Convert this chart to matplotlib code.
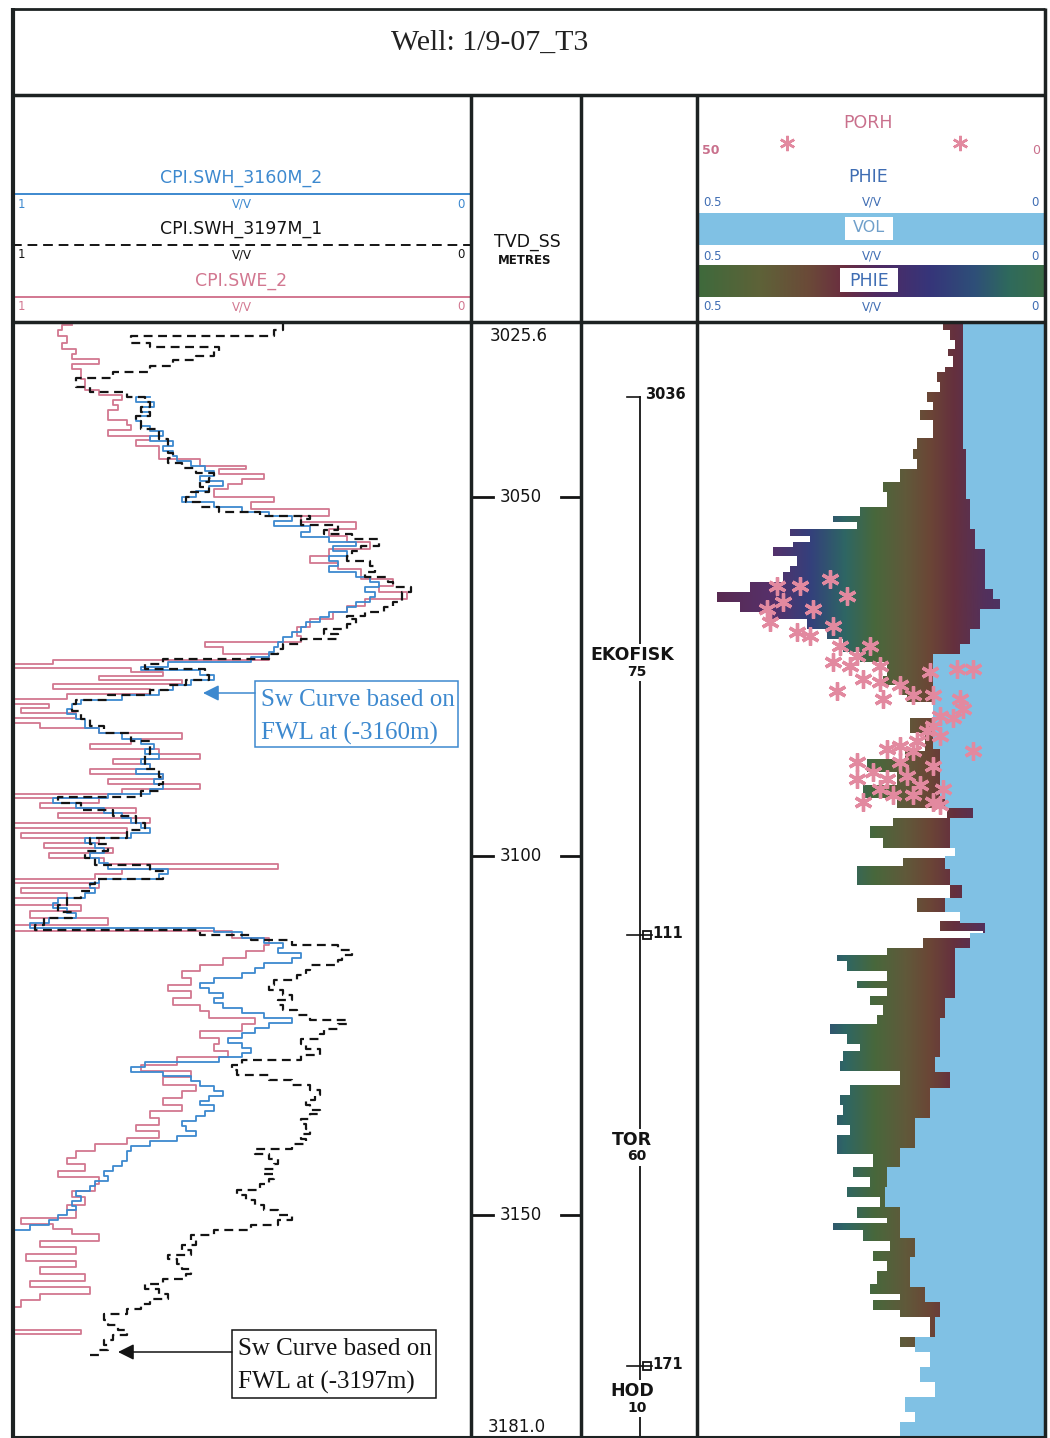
import numpy as np
import matplotlib.pyplot as plt
from matplotlib.colors import LinearSegmentedColormap
from matplotlib.patches import Rectangle

W, H = 1050, 1438
TOP, BASE = 3025.6, 3181.0
WELL = 'Well: 1/9-07_T3'

# water saturation, CPI.SWE_2 (v/v)
swe_depth = [3026.0, 3026.7, 3027.6, 3028.5, 3029.4, 3030.1, 3030.8, 3031.5, 3032.2, 3033.6,
             3035.0, 3035.7, 3036.4, 3037.1, 3037.8, 3039.2, 3039.9, 3040.6, 3041.5, 3042.0,
             3042.9, 3043.3, 3044.7, 3045.7, 3046.1, 3046.8, 3047.5, 3048.2, 3048.9, 3049.9,
             3050.7, 3051.7, 3052.6, 3053.5, 3054.4, 3055.4, 3056.3, 3057.2, 3058.2, 3059.1,
             3060.0, 3061.4, 3062.4, 3063.2, 3064.2, 3065.1, 3066.0, 3066.9, 3068.1, 3069.3,
             3070.1, 3070.9, 3071.8, 3072.6, 3073.2, 3073.8, 3074.3, 3074.9, 3075.4, 3076.0,
             3076.7, 3077.4, 3078.1, 3078.8, 3079.4, 3080.1, 3080.8, 3081.5, 3082.2, 3082.9,
             3083.6, 3084.3, 3085.0, 3085.7, 3086.4, 3087.1, 3087.8, 3088.5, 3089.2, 3089.9,
             3090.6, 3091.3, 3091.9, 3092.6, 3093.3, 3094.0, 3094.7, 3095.4, 3096.1, 3096.8,
             3097.5, 3098.2, 3098.9, 3099.6, 3100.3, 3101.1, 3101.7, 3102.4, 3103.1, 3103.7,
             3104.4, 3105.1, 3105.8, 3106.8, 3107.6, 3108.6, 3109.6, 3110.4, 3111.4, 3112.3,
             3113.2, 3114.2, 3115.1, 3116.0, 3117.0, 3117.9, 3118.8, 3119.7, 3120.7, 3121.6,
             3122.5, 3123.4, 3124.3, 3125.3, 3126.2, 3127.1, 3128.0, 3129.0, 3129.9, 3130.8,
             3131.8, 3132.7, 3133.6, 3134.6, 3135.4, 3136.4, 3137.4, 3138.2, 3139.2, 3140.1,
             3141.0, 3142.0, 3142.9, 3143.8, 3144.7, 3145.7, 3146.6, 3147.5, 3148.5, 3149.3,
             3150.3, 3151.2, 3151.9, 3152.6, 3153.5, 3154.4, 3155.4, 3156.3, 3157.2, 3158.2,
             3159.1, 3160.0, 3160.9, 3161.8, 3162.8, 3163.7, 3166.0, 3166.5, 3167.2, 3181.0]
swe = [0.87, 0.89, 0.90, 0.88, 0.89, 0.86, 0.87, 0.81, 0.87, 0.85,
       0.84, 0.81, 0.76, 0.78, 0.77, 0.79, 0.75, 0.74, 0.79, 0.70,
       0.73, 0.68, 0.68, 0.59, 0.49, 0.55, 0.45, 0.50, 0.53, 0.56,
       0.43, 0.48, 0.31, 0.37, 0.25, 0.31, 0.27, 0.22, 0.31, 0.35,
       0.29, 0.24, 0.17, 0.20, 0.14, 0.23, 0.27, 0.30, 0.35, 0.38,
       0.37, 0.58, 0.54, 0.44, 0.91, 1.00, 0.74, 0.67, 0.81, 0.63,
       0.91, 0.70, 0.88, 1.00, 0.92, 0.98, 0.86, 1.00, 0.94, 0.81,
       0.63, 0.74, 0.83, 0.68, 0.59, 0.78, 0.70, 0.83, 0.67, 0.79,
       0.59, 0.76, 1.00, 0.81, 0.94, 0.73, 0.90, 0.70, 1.00, 0.75,
       0.98, 0.81, 0.93, 0.78, 0.92, 0.80, 0.42, 0.76, 0.82, 1.00,
       0.81, 0.98, 0.88, 1.00, 0.85, 0.96, 0.79, 1.00, 0.52, 0.44,
       0.45, 0.49, 0.54, 0.59, 0.63, 0.61, 0.66, 0.61, 0.65, 0.59,
       0.57, 0.47, 0.50, 0.59, 0.55, 0.56, 0.53, 0.64, 0.72, 0.61,
       0.67, 0.60, 0.63, 0.67, 0.63, 0.70, 0.68, 0.73, 0.68, 0.75,
       0.82, 0.86, 0.88, 0.84, 0.90, 0.81, 0.82, 0.87, 0.84, 0.88,
       0.86, 0.98, 0.91, 0.87, 0.81, 0.94, 0.86, 0.97, 0.86, 0.94,
       0.84, 0.96, 0.83, 0.94, 0.98, 1.00, 1.00, 0.85, 1.00, 1.00]

# CPI.SWH_3160M_2 (FWL at -3160 m)
swh60_depth = [3036.0, 3036.7, 3037.4, 3038.1, 3038.7, 3039.4, 3040.1, 3040.8, 3041.5, 3042.2,
               3042.9, 3043.6, 3044.3, 3045.0, 3045.7, 3046.4, 3047.1, 3047.8, 3048.5, 3049.2,
               3049.9, 3050.6, 3051.3, 3052.0, 3052.6, 3053.3, 3054.0, 3054.9, 3055.6, 3056.3,
               3056.8, 3057.5, 3058.2, 3058.9, 3059.6, 3060.4, 3061.1, 3061.8, 3062.5, 3063.2,
               3063.9, 3064.6, 3065.3, 3066.0, 3066.7, 3067.4, 3068.1, 3068.8, 3069.5, 3070.1,
               3070.9, 3071.6, 3072.3, 3072.9, 3073.6, 3074.1, 3074.8, 3075.5, 3076.2, 3076.9,
               3077.6, 3078.3, 3078.8, 3079.5, 3080.2, 3080.9, 3081.5, 3082.2, 3082.9, 3083.6,
               3084.3, 3085.0, 3085.7, 3086.4, 3087.1, 3087.8, 3088.5, 3089.2, 3089.9, 3090.6,
               3091.3, 3091.9, 3092.6, 3093.3, 3094.0, 3094.7, 3095.4, 3096.1, 3096.8, 3097.5,
               3098.2, 3098.9, 3099.6, 3100.3, 3101.0, 3101.7, 3102.4, 3103.1, 3103.7, 3104.4,
               3105.1, 3105.8, 3106.5, 3107.2, 3107.9, 3108.6, 3109.3, 3110.0, 3110.5, 3111.4,
               3112.1, 3112.8, 3113.5, 3114.2, 3114.9, 3115.6, 3116.3, 3117.0, 3117.6, 3118.3,
               3119.0, 3119.7, 3120.4, 3121.1, 3121.8, 3122.5, 3123.2, 3123.9, 3124.6, 3125.3,
               3126.0, 3126.7, 3127.4, 3128.0, 3128.7, 3129.4, 3130.0, 3130.6, 3131.3, 3132.0,
               3132.7, 3133.4, 3134.1, 3134.7, 3135.4, 3136.1, 3136.8, 3137.5, 3138.2, 3138.9,
               3139.6, 3140.3, 3141.0, 3141.7, 3142.4, 3143.1, 3143.8, 3144.5, 3145.2, 3145.9,
               3146.6, 3147.3, 3148.0, 3148.7, 3149.3, 3150.0, 3150.7, 3151.4, 3152.1, 3152.8,
               3181.0]
swh60 = [0.70, 0.73, 0.69, 0.72, 0.70, 0.73, 0.72, 0.70, 0.67, 0.70,
         0.65, 0.67, 0.65, 0.64, 0.61, 0.58, 0.56, 0.59, 0.54, 0.57,
         0.60, 0.63, 0.56, 0.50, 0.44, 0.39, 0.43, 0.35, 0.37, 0.31,
         0.25, 0.30, 0.27, 0.31, 0.29, 0.31, 0.25, 0.22, 0.20, 0.23,
         0.21, 0.22, 0.25, 0.27, 0.31, 0.33, 0.36, 0.37, 0.39, 0.41,
         0.42, 0.43, 0.44, 0.48, 0.66, 0.72, 0.59, 0.56, 0.61, 0.65,
         0.68, 0.76, 0.85, 0.87, 0.88, 0.86, 0.84, 0.84, 0.81, 0.76,
         0.72, 0.69, 0.71, 0.68, 0.72, 0.70, 0.73, 0.67, 0.69, 0.67,
         0.70, 0.79, 0.91, 0.86, 0.80, 0.76, 0.74, 0.72, 0.70, 0.74,
         0.84, 0.82, 0.80, 0.83, 0.81, 0.79, 0.66, 0.68, 0.81, 0.83,
         0.82, 0.84, 0.90, 0.91, 0.88, 0.86, 0.92, 0.96, 0.56, 0.50,
         0.45, 0.41, 0.42, 0.37, 0.39, 0.45, 0.47, 0.50, 0.56, 0.59,
         0.57, 0.54, 0.56, 0.54, 0.50, 0.45, 0.39, 0.44, 0.47, 0.50,
         0.53, 0.50, 0.48, 0.50, 0.55, 0.71, 0.74, 0.67, 0.61, 0.59,
         0.56, 0.54, 0.57, 0.59, 0.56, 0.58, 0.60, 0.63, 0.62, 0.60,
         0.64, 0.70, 0.74, 0.75, 0.75, 0.76, 0.78, 0.80, 0.79, 0.82,
         0.83, 0.86, 0.85, 0.87, 0.86, 0.88, 0.90, 0.92, 0.96, 1.00,
         1.00]

# CPI.SWH_3197M_1 (FWL at -3197 m)
swh97_depth = [3025.6, 3026.7, 3027.6, 3028.5, 3029.1, 3029.7, 3030.3, 3030.9, 3031.7, 3032.5,
               3033.4, 3034.0, 3034.6, 3035.3, 3036.0, 3036.7, 3037.4, 3038.1, 3038.7, 3039.4,
               3040.5, 3041.9, 3042.9, 3043.8, 3044.5, 3045.2, 3045.9, 3046.6, 3047.3, 3047.9,
               3048.6, 3049.3, 3050.0, 3050.6, 3051.3, 3052.0, 3052.6, 3053.1, 3053.8, 3054.5,
               3055.1, 3055.8, 3056.8, 3057.5, 3058.2, 3058.9, 3059.6, 3060.4, 3061.1, 3061.8,
               3062.5, 3063.2, 3063.9, 3064.6, 3065.3, 3066.0, 3066.6, 3067.0, 3067.7, 3068.4,
               3069.1, 3069.7, 3070.4, 3071.1, 3071.8, 3072.5, 3073.2, 3073.9, 3074.8, 3075.5,
               3076.2, 3076.9, 3077.6, 3078.3, 3078.8, 3079.8, 3080.9, 3081.9, 3082.9, 3083.9,
               3084.7, 3085.7, 3087.8, 3088.9, 3089.9, 3090.9, 3091.7, 3092.6, 3093.6, 3094.4,
               3095.4, 3096.4, 3097.5, 3098.3, 3099.3, 3100.3, 3101.2, 3102.1, 3103.1, 3103.9,
               3104.9, 3105.8, 3106.8, 3107.7, 3108.6, 3109.6, 3110.3, 3111.0, 3111.7, 3112.4,
               3113.1, 3113.8, 3114.5, 3115.2, 3115.8, 3116.5, 3117.2, 3117.9, 3118.6, 3119.3,
               3120.0, 3120.7, 3121.4, 3122.1, 3122.8, 3123.4, 3124.1, 3124.8, 3125.5, 3126.2,
               3126.9, 3127.6, 3128.3, 3129.0, 3129.7, 3130.4, 3131.1, 3131.8, 3132.5, 3133.2,
               3133.9, 3134.6, 3135.3, 3135.9, 3136.6, 3137.3, 3138.0, 3138.7, 3139.4, 3140.1,
               3140.8, 3141.5, 3142.2, 3142.9, 3143.6, 3144.3, 3145.0, 3145.7, 3146.4, 3147.1,
               3147.8, 3148.5, 3149.2, 3149.9, 3150.6, 3151.3, 3152.0, 3152.7, 3153.4, 3154.1,
               3154.8, 3155.5, 3156.1, 3156.8, 3157.5, 3158.2, 3158.9, 3159.6, 3160.3, 3161.0,
               3161.7, 3162.4, 3163.1, 3163.8, 3164.5, 3165.2, 3165.9, 3166.6, 3167.3, 3168.0,
               3168.7, 3169.4, 3170.1]
swh97 = [0.41, 0.41, 0.43, 0.74, 0.70, 0.55, 0.56, 0.60, 0.65, 0.70,
         0.78, 0.86, 0.86, 0.83, 0.75, 0.71, 0.70, 0.72, 0.70, 0.73,
         0.72, 0.68, 0.66, 0.66, 0.65, 0.66, 0.63, 0.60, 0.56, 0.57,
         0.59, 0.57, 0.61, 0.62, 0.59, 0.55, 0.46, 0.35, 0.37, 0.29,
         0.32, 0.26, 0.20, 0.24, 0.26, 0.27, 0.22, 0.21, 0.23, 0.18,
         0.17, 0.13, 0.15, 0.15, 0.17, 0.19, 0.23, 0.27, 0.25, 0.27,
         0.32, 0.29, 0.37, 0.41, 0.42, 0.44, 0.67, 0.71, 0.58, 0.57,
         0.62, 0.66, 0.70, 0.79, 0.86, 0.87, 0.85, 0.83, 0.80, 0.74,
         0.70, 0.70, 0.71, 0.68, 0.67, 0.68, 0.72, 0.90, 0.85, 0.78,
         0.73, 0.71, 0.75, 0.83, 0.79, 0.84, 0.82, 0.70, 0.67, 0.82,
         0.83, 0.85, 0.88, 0.90, 0.87, 0.93, 0.95, 0.59, 0.48, 0.39,
         0.29, 0.26, 0.28, 0.29, 0.35, 0.36, 0.38, 0.43, 0.44, 0.41,
         0.39, 0.42, 0.41, 0.38, 0.35, 0.27, 0.29, 0.32, 0.33, 0.37,
         0.36, 0.33, 0.37, 0.50, 0.52, 0.51, 0.44, 0.39, 0.35, 0.33,
         0.34, 0.36, 0.35, 0.33, 0.35, 0.37, 0.36, 0.35, 0.37, 0.36,
         0.39, 0.47, 0.44, 0.42, 0.43, 0.45, 0.43, 0.44, 0.46, 0.51,
         0.49, 0.47, 0.45, 0.42, 0.39, 0.42, 0.48, 0.56, 0.61, 0.60,
         0.63, 0.61, 0.66, 0.64, 0.63, 0.61, 0.62, 0.67, 0.71, 0.68,
         0.66, 0.70, 0.72, 0.75, 0.80, 0.79, 0.77, 0.75, 0.78, 0.80,
         0.79, 0.81, 0.83]

# effective porosity PHIE (v/v)
phie_depth = [3025.7, 3026.7, 3028.1, 3029.4, 3030.4, 3031.8, 3032.6, 3034.0, 3035.4, 3036.8,
              3037.8, 3039.2, 3040.6, 3041.7, 3043.3, 3044.7, 3046.1, 3047.9, 3049.3, 3050.3,
              3051.3, 3052.6, 3053.5, 3054.4, 3055.4, 3056.3, 3057.0, 3058.2, 3059.6, 3060.4,
              3061.8, 3063.2, 3064.6, 3066.0, 3067.0, 3068.3, 3069.7, 3071.5, 3072.9, 3074.9,
              3076.2, 3077.6, 3078.5, 3080.8, 3082.9, 3085.4, 3086.4, 3088.2, 3090.1, 3091.9,
              3093.3, 3094.7, 3095.8, 3097.5, 3098.9, 3100.3, 3101.4, 3102.6, 3104.0, 3105.8,
              3107.7, 3109.0, 3110.4, 3111.4, 3112.8, 3113.8, 3114.6, 3116.0, 3117.4, 3118.3,
              3119.4, 3120.7, 3122.1, 3123.4, 3124.8, 3126.2, 3127.1, 3128.5, 3129.9, 3131.8,
              3133.2, 3134.6, 3136.0, 3137.4, 3138.8, 3140.1, 3141.5, 3143.3, 3144.7, 3146.1,
              3147.5, 3148.9, 3150.3, 3151.0, 3152.1, 3153.5, 3154.9, 3156.3, 3157.7, 3159.6,
              3161.0, 3161.8, 3163.2, 3164.2, 3166.9, 3168.3, 3171.1, 3175.3, 3181.0]
phie = [0.147, 0.136, 0.129, 0.139, 0.132, 0.144, 0.155, 0.151, 0.170, 0.161,
        0.180, 0.161, 0.161, 0.184, 0.190, 0.184, 0.208, 0.233, 0.227, 0.227,
        0.266, 0.305, 0.270, 0.366, 0.338, 0.362, 0.391, 0.356, 0.366, 0.376,
        0.424, 0.471, 0.438, 0.399, 0.342, 0.313, 0.290, 0.266, 0.227, 0.233,
        0.208, 0.198, 0.161, 0.194, 0.172, 0.201, 0.256, 0.213, 0.261, 0.213,
        0.141, 0.218, 0.251, 0.233, 0.129, 0.204, 0.270, 0.270, 0.136, 0.184,
        0.122, 0.151, 0.089, 0.175, 0.227, 0.299, 0.284, 0.227, 0.270, 0.227,
        0.251, 0.233, 0.241, 0.309, 0.284, 0.266, 0.290, 0.295, 0.208, 0.280,
        0.295, 0.290, 0.299, 0.280, 0.299, 0.299, 0.247, 0.276, 0.251, 0.284,
        0.237, 0.270, 0.227, 0.305, 0.261, 0.223, 0.247, 0.227, 0.241, 0.251,
        0.208, 0.247, 0.208, 0.165, 0.208, 0.165, 0.151, 0.136, 0.122]

# bulk volume curve VOL (v/v), shaded blue
vol_depth = [3025.6, 3036.4, 3043.3, 3050.3, 3054.4, 3057.2, 3060.0, 3062.8, 3064.2, 3065.6,
             3068.3, 3070.4, 3071.8, 3078.1, 3085.0, 3091.9, 3093.3, 3094.7, 3098.9, 3100.0,
             3101.7, 3104.0, 3105.8, 3107.7, 3109.3, 3110.7, 3112.8, 3119.7, 3122.5, 3128.0,
             3130.1, 3132.2, 3136.4, 3140.6, 3143.3, 3146.1, 3148.9, 3153.1, 3155.8, 3160.0,
             3162.1, 3164.2, 3166.9, 3169.0, 3171.1, 3173.2, 3175.3, 3177.4, 3178.8, 3181.0]
vol = [0.118, 0.118, 0.114, 0.108, 0.101, 0.086, 0.086, 0.075, 0.065, 0.093,
       0.108, 0.122, 0.161, 0.161, 0.151, 0.144, 0.103, 0.136, 0.129, 0.144,
       0.136, 0.119, 0.144, 0.122, 0.086, 0.108, 0.129, 0.144, 0.151, 0.158,
       0.136, 0.165, 0.187, 0.208, 0.227, 0.230, 0.208, 0.187, 0.194, 0.172,
       0.151, 0.158, 0.187, 0.165, 0.180, 0.158, 0.201, 0.187, 0.208, 0.218]

# core porosity PORH (%)
porh_depth = [3062.4, 3062.4, 3061.4, 3063.8, 3064.6, 3065.6, 3065.6, 3067.4, 3068.8, 3069.3,
              3067.9, 3070.7, 3070.7, 3072.1, 3072.9, 3073.5, 3073.5, 3075.3, 3075.7, 3077.0,
              3078.1, 3076.2, 3074.3, 3073.9, 3073.9, 3077.6, 3077.6, 3078.1, 3079.5, 3080.4,
              3080.8, 3081.8, 3082.6, 3083.2, 3084.0, 3084.6, 3085.0, 3085.4, 3085.4, 3086.8,
              3086.8, 3087.4, 3088.2, 3089.2, 3089.2, 3088.8, 3090.6, 3090.1, 3090.6, 3091.5,
              3091.5, 3092.4, 3092.4, 3092.9]
porh = [38.5, 35.2, 30.9, 28.4, 37.6, 33.3, 39.9, 39.5, 35.6, 33.8,
        30.5, 29.5, 25.1, 27.0, 30.5, 28.0, 23.7, 26.1, 23.7, 29.9,
        23.3, 20.8, 16.5, 12.6, 10.3, 19.0, 16.1, 12.2, 11.8, 15.1,
        13.2, 16.1, 17.0, 15.1, 18.4, 20.8, 22.7, 19.0, 10.3, 27.0,
        20.8, 16.1, 24.7, 27.0, 22.7, 19.8, 23.7, 18.0, 14.7, 21.8,
        19.0, 26.1, 16.1, 15.1]

depth_ticks = [3050, 3100, 3150]
zone_tops = [3036, 3111, 3171]
zone_names = ['EKOFISK', 'TOR', 'HOD']
zone_thick = [75, 60, 10]

BLUE = '#3d89cf'
PINK = '#d27790'
DARK = '#141414'
FRAME = '#1d2222'
VOL_BLUE = '#80c1e4'
STAR = '#e2899f'

plt.rcParams['font.family'] = 'DejaVu Sans'

fig = plt.figure(figsize=(W / 100, H / 100), dpi=100)
fig.patch.set_facecolor('white')


def frac(x0, y0, x1, y1):
    return [x0 / W, 1 - y1 / H, (x1 - x0) / W, (y1 - y0) / H]


def pixel_axes():
    ax = fig.add_axes([0, 0, 1, 1])
    ax.set_xlim(0, W)
    ax.set_ylim(H, 0)
    ax.axis('off')
    return ax


def track(x0, x1, xlim):
    ax = fig.add_axes(frac(x0, 322, x1, H))
    ax.set_xlim(*xlim)
    ax.set_ylim(BASE, TOP)
    ax.axis('off')
    return ax


bg = pixel_axes()

# ---- header ----
bg.text(490, 43, WELL, ha='center', va='center', fontsize=21.5,
        family='Liberation Serif', color='#222222')


def scale_row(ax, y, x0, x1, left, color, mid=None):
    mid = (x0 + x1) / 2 if mid is None else mid
    kw = dict(va='center', color=color, fontsize=8.5)
    ax.text(x0 + 6, y, left, ha='left', **kw)
    ax.text(mid, y, 'V/V', ha='center', **kw)
    ax.text(x1 - 6, y, '0', ha='right', **kw)


sw_heads = [('CPI.SWH_3160M_2', BLUE, '-', 178), ('CPI.SWH_3197M_1', DARK, (0, (5, 3)), 229),
            ('CPI.SWE_2', PINK, '-', 281)]
for name, col, ls, y in sw_heads:
    bg.text(241, y, name, ha='center', va='center', fontsize=12.5, color=col)
    bg.plot([12, 471], [y + 16, y + 16], color=col, lw=1.4, ls=ls)
    scale_row(bg, y + 26, 12, 471, '1', col)

bg.text(527, 242, 'TVD_SS', ha='center', va='center', fontsize=12.5, color=DARK)
bg.text(525, 260, 'METRES', ha='center', va='center', fontsize=8.5, weight='bold', color=DARK)

bg.text(868, 123, 'PORH', ha='center', va='center', fontsize=12.5, color='#c9708c')
bg.text(702, 150, '50', ha='left', va='center', fontsize=9, color='#c9708c', weight='bold')
bg.text(1040, 150, '0', ha='right', va='center', fontsize=9, color='#c9708c')
bg.plot([787, 960], [143, 143], ls='none', marker=(6, 2, 0), ms=11, mew=1.8, color=STAR)

bg.text(868, 177, 'PHIE', ha='center', va='center', fontsize=12.5, color='#3f6db3')
scale_row(bg, 202, 697, 1045, '0.5', '#3f6db3', mid=872)
bg.add_patch(Rectangle((697, 213), 348, 32, color=VOL_BLUE, lw=0))
bg.add_patch(Rectangle((845, 217), 48, 23, color='white', lw=0))
bg.text(869, 228, 'VOL', ha='center', va='center', fontsize=11.5, color='#6f9fca')
scale_row(bg, 256, 697, 1045, '0.5', '#3f6db3', mid=872)

head_cmap = LinearSegmentedColormap.from_list('phie_head', [
    (0.00, '#3e6a3c'), (0.18, '#5e6238'), (0.32, '#6b4a38'), (0.42, '#6a2e40'),
    (0.52, '#4f2a62'), (0.67, '#36357a'), (0.80, '#2e4f78'), (0.90, '#2f6a5c'),
    (1.00, '#3c6e48')])
grad = np.linspace(0, 1, 600).reshape(1, -1)
bg.imshow(grad, cmap=head_cmap, extent=(697, 1045, 297, 265), aspect='auto',
          interpolation='bilinear')
bg.add_patch(Rectangle((840, 268), 58, 24, color='white', lw=0))
bg.text(869, 281, 'PHIE', ha='center', va='center', fontsize=12.5, color='#3f6db3')
scale_row(bg, 307, 697, 1045, '0.5', '#3f6db3', mid=872)
bg.set_xlim(0, W)
bg.set_ylim(H, 0)

# ---- saturation track ----
sw_ax = track(12, 471, (1, 0))
sw_ax.plot(swe, swe_depth, color=PINK, lw=1.3, drawstyle='steps-post')
sw_ax.plot(swh60, swh60_depth, color=BLUE, lw=1.3, drawstyle='steps-post')
sw_ax.plot(swh97, swh97_depth, color=DARK, lw=1.6, ls=(0, (4, 2.5)), drawstyle='steps-post')

# ---- depth and zone tracks ----
mid = track(471, 697, (471, 697))
for d in depth_ticks:
    mid.plot([473, 493], [d, d], color=DARK, lw=2)
    mid.plot([561, 580], [d, d], color=DARK, lw=2)
    mid.text(521, d, str(d), ha='center', va='center', fontsize=12, color=DARK)
mid.text(519, TOP + 2.0, f'{TOP:.1f}', ha='center', va='center', fontsize=12, color=DARK)
mid.text(517, BASE - 1.5, f'{BASE:.1f}', ha='center', va='center', fontsize=12, color=DARK)

mid.plot([640, 640], [zone_tops[0], BASE], color=DARK, lw=1.3)
for i, (top, name, thick) in enumerate(zip(zone_tops, zone_names, zone_thick)):
    if i == 0:
        mid.plot([627, 640], [top, top], color=DARK, lw=1.2)
    else:
        mid.plot([627, 652], [top, top], color=DARK, lw=1.2)
        mid.plot([647], [top], marker='s', ms=6, mfc='none', mec=DARK, mew=1.3)
    mid.text(645 if i == 0 else 652, top - 0.3, str(top) if i == 0 else str(top)[1:],
             ha='left', va='center', fontsize=10.5, weight='bold', color=DARK)
    centre = top + thick / 2
    box = dict(fc='white', ec='none', pad=1.5)
    mid.text(632, centre - 1.5, name, ha='center', va='center', fontsize=12.5,
             weight='bold', color=DARK, bbox=box)
    mid.text(637, centre + 0.8, str(thick), ha='center', va='center', fontsize=10,
             weight='bold', color=DARK, bbox=box)

# ---- porosity track ----
phi_cmap = LinearSegmentedColormap.from_list('phie_fill', [
    (0.00, '#5a2848'), (0.21, '#56306a'), (0.325, '#34407c'), (0.425, '#2e6664'),
    (0.51, '#48683c'), (0.60, '#60593a'), (0.67, '#6b4636'), (0.74, '#65303e'),
    (0.83, '#53305c'), (1.00, '#3a3e72')])
phi_ax = track(697, 1045, (0.5, 0))
shade = phi_ax.fill_betweenx(phie_depth, phie, 0, step='post', facecolor='none', lw=0)
img = phi_ax.imshow(grad, cmap=phi_cmap, extent=(0.5, 0.0, BASE, TOP), aspect='auto',
                    interpolation='bilinear')
img.set_clip_path(shade.get_paths()[0], transform=phi_ax.transData)
phi_ax.fill_betweenx(vol_depth, vol, 0, step='post', color=VOL_BLUE, lw=0)
phi_ax.set_xlim(0.5, 0)
phi_ax.set_ylim(BASE, TOP)

por_ax = track(697, 1045, (50, 0))
por_ax.plot(porh, porh_depth, ls='none', marker=(6, 2, 0), ms=13, mew=2.4, color=STAR)

# ---- frame and notes ----
ov = pixel_axes()
fk = dict(color=FRAME, solid_capstyle='butt')
ov.plot([12, 1045], [9, 9], lw=2, **fk)
ov.plot([12, 1045], [95, 95], lw=2.5, **fk)
ov.plot([12, 1045], [322, 322], lw=2.5, **fk)
ov.plot([12, 1045], [1437, 1437], lw=1.5, **fk)
ov.plot([13, 13], [8, H], lw=3, **fk)
ov.plot([1045, 1045], [8, H], lw=2.5, **fk)
for x in (471, 581, 697):
    ov.plot([x, x], [95, H], lw=2.5, **fk)

notes = [((255, 681, 458, 747), (203, 693), BLUE, 'FWL at (-3160m)'),
         ((232, 1330, 436, 1398), (118, 1352), DARK, 'FWL at (-3197m)')]
for (x0, y0, x1, y1), tip, col, line2 in notes:
    ov.add_patch(Rectangle((x0, y0), x1 - x0, y1 - y0, fill=False, ec=col, lw=1.1))
    ov.text(x0 + 6, y0 + 19, 'Sw Curve based on', ha='left', va='center', fontsize=18,
            family='Liberation Serif', color=col)
    ov.text(x0 + 6, y0 + 52, line2, ha='left', va='center', fontsize=18,
            family='Liberation Serif', color=col)
    ov.annotate('', xy=tip, xytext=(x0, tip[1]),
                arrowprops=dict(arrowstyle='-|>', color=col, lw=1.1, mutation_scale=24,
                                shrinkA=0, shrinkB=0))

fig.savefig('out.png', dpi=100)
